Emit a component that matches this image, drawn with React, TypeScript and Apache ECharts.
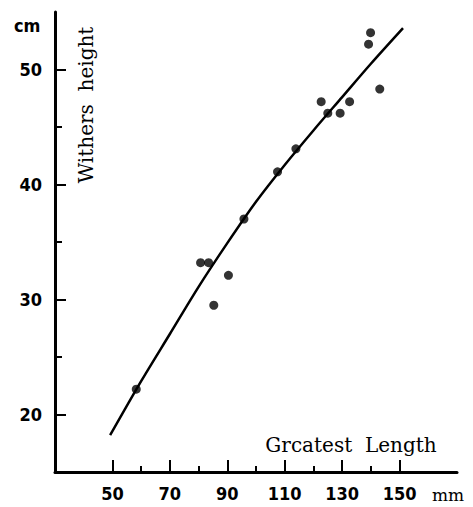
import React, { useEffect, useRef } from "react";
import * as echarts from "echarts";

const samplePoints: [number, number][] = [
  [58.3, 22.2],
  [80.7, 33.2],
  [83.5, 33.2],
  [85.3, 29.5],
  [90.4, 32.1],
  [95.8, 37.0],
  [107.5, 41.1],
  [113.9, 43.1],
  [122.7, 47.2],
  [125.0, 46.2],
  [129.3, 46.2],
  [132.6, 47.2],
  [139.2, 52.2],
  [139.9, 53.2],
  [143.1, 48.3],
];

const curveX = [49.2, 60, 70, 80, 90, 100, 110, 120, 130, 140, 151.2];
const curveY = [18.2, 22.9, 27.0, 31.1, 34.9, 38.5, 41.7, 44.7, 47.6, 50.5, 53.6];

const xMajorTicks = [50, 70, 90, 110, 130, 150];
const xMinorTicks = [60, 80, 100, 120, 140];
const yMajorTicks = [20, 30, 40, 50];
const yMinorTicks = [25, 35, 45];

const labelFont = "'DejaVu Sans Condensed', 'Liberation Sans Narrow', 'DejaVu Sans', sans-serif";
const serifFont = "'DejaVu Serif', serif";

export default function App() {
  const ref = useRef<HTMLDivElement>(null);
  useEffect(() => {
    if (!ref.current) return;
    document.body.style.margin = "0";
    const chart = echarts.init(ref.current, null, { renderer: "svg" });
    const grid = { left: 55, right: 16, top: 12, bottom: 35 };
    const axisLineStyle = { color: "#000", width: 3 };
    chart.setOption({
      animation: false,
      backgroundColor: "#fff",
      grid,
      xAxis: [
        {
          type: "value",
          min: 30,
          max: 170,
          axisLine: { show: true, onZero: false, lineStyle: axisLineStyle },
          axisTick: {
            show: true,
            inside: true,
            length: 12,
            customValues: xMajorTicks,
            lineStyle: { color: "#000", width: 2 },
          },
          axisLabel: {
            customValues: xMajorTicks,
            margin: 12,
            color: "#000",
            fontSize: 18,
            fontWeight: "bold",
            fontFamily: labelFont,
          },
          splitLine: { show: false },
        },
        {
          type: "value",
          min: 30,
          max: 170,
          position: "bottom",
          axisLine: { show: false, onZero: false },
          axisTick: {
            show: true,
            inside: true,
            length: 6,
            customValues: xMinorTicks,
            lineStyle: { color: "#000", width: 2 },
          },
          axisLabel: { show: false },
          splitLine: { show: false },
        },
      ],
      yAxis: [
        {
          type: "value",
          min: 15,
          max: 55,
          position: "left",
          axisLine: { show: true, onZero: false, lineStyle: axisLineStyle },
          axisTick: {
            show: true,
            inside: true,
            length: 11,
            customValues: yMajorTicks,
            lineStyle: { color: "#000", width: 2 },
          },
          axisLabel: {
            customValues: yMajorTicks,
            margin: 13,
            color: "#000",
            fontSize: 18,
            fontWeight: "bold",
            fontFamily: labelFont,
          },
          splitLine: { show: false },
        },
        {
          type: "value",
          min: 15,
          max: 55,
          position: "left",
          axisLine: { show: false, onZero: false },
          axisTick: {
            show: true,
            inside: true,
            length: 7,
            customValues: yMinorTicks,
            lineStyle: { color: "#000", width: 2 },
          },
          axisLabel: { show: false },
          splitLine: { show: false },
        },
      ],
      graphic: [
        {
          type: "text",
          x: 14,
          y: 25,
          style: {
            text: "cm",
            font: `bold 18px ${labelFont}`,
            fill: "#000",
            verticalAlign: "middle",
          },
        },
        {
          type: "text",
          x: 432,
          y: 495,
          style: {
            text: "mm",
            font: `17px ${serifFont}`,
            fill: "#000",
            verticalAlign: "middle",
          },
        },
        {
          type: "text",
          x: 86,
          y: 105,
          rotation: Math.PI / 2,
          style: {
            text: "Withers  height",
            font: `20px ${serifFont}`,
            fill: "#000",
            align: "center",
            verticalAlign: "middle",
          },
        },
        {
          type: "text",
          x: 351,
          y: 445,
          style: {
            text: "Grcatest  Length",
            font: `20px ${serifFont}`,
            fill: "#000",
            align: "center",
            verticalAlign: "middle",
          },
        },
      ],
      series: [
        {
          type: "line",
          xAxisIndex: 0,
          yAxisIndex: 0,
          data: curveX.map((x, i) => [x, curveY[i]]),
          smooth: 0.3,
          showSymbol: false,
          lineStyle: { color: "#000", width: 2.5 },
          z: 2,
        },
        {
          type: "scatter",
          xAxisIndex: 0,
          yAxisIndex: 0,
          data: samplePoints,
          symbol: "circle",
          symbolSize: 9,
          itemStyle: { color: "#000" },
          z: 3,
        },
      ],
    });
    return () => chart.dispose();
  }, []);
  return <div ref={ref} style={{ width: 473, height: 507 }} />;
}
